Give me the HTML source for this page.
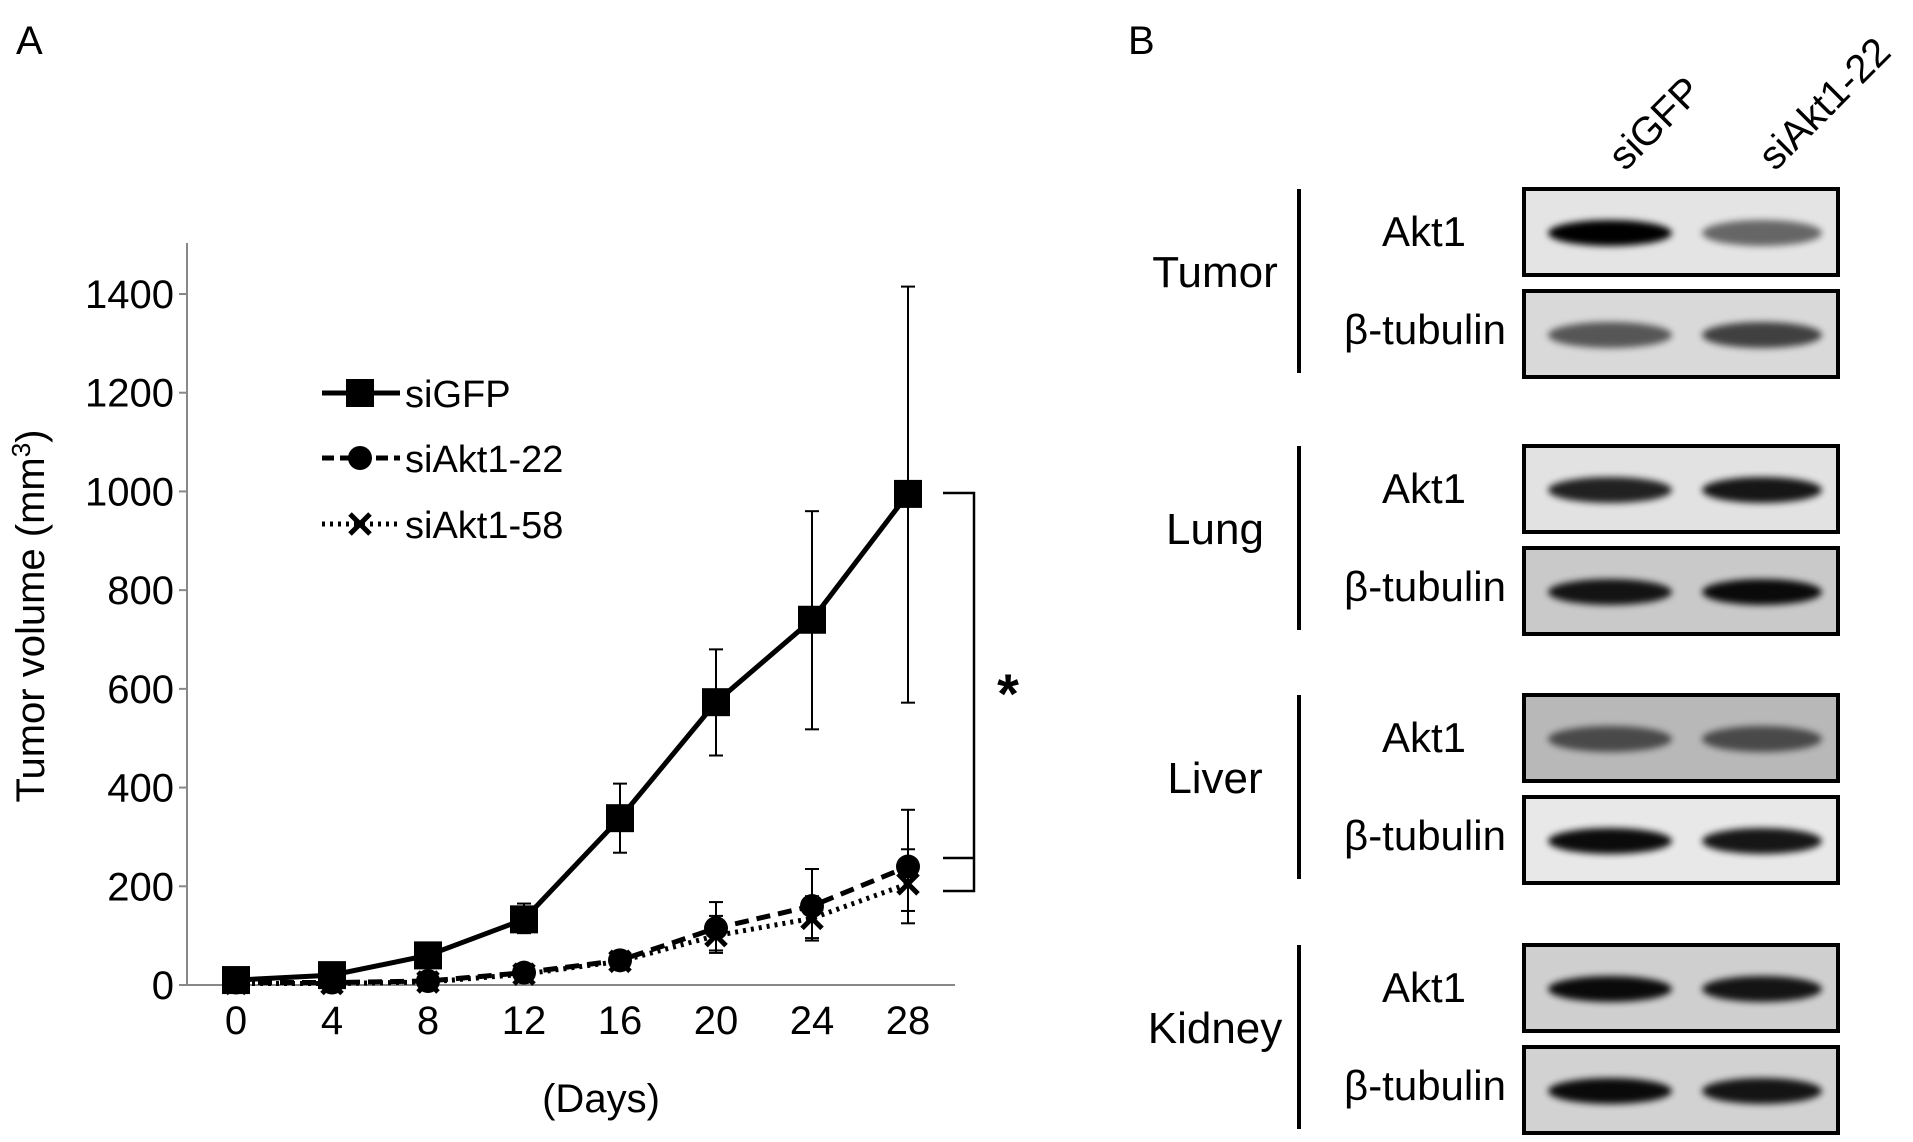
<!DOCTYPE html>
<html><head><meta charset="utf-8"><style>
html,body{margin:0;padding:0;background:#fff;}
svg{display:block;font-family:"Liberation Sans",Arial,sans-serif;}
</style></head><body>
<svg id="fig" width="1913" height="1142" viewBox="0 0 1913 1142">
<defs>
<filter id="blur" x="-20%" y="-100%" width="140%" height="300%"><feGaussianBlur stdDeviation="3.5"/></filter>
</defs>
<text x="16" y="54" font-size="40">A</text>
<text x="1128" y="54" font-size="40">B</text>
<g id="chart"></g>
<g id="blots"></g>
</svg>
<script>
const days = [0, 4, 8, 12, 16, 20, 24, 28];
const siGFP = [10, 20, 60, 133, 338, 573, 740, 995];
const siGFPHi = [15, 28, 75, 165, 408, 680, 960, 1415];
const siGFPLo = [5, 12, 45, 105, 268, 465, 518, 572];
const siAkt22 = [5, 5, 8, 25, 50, 115, 160, 240];
const siAkt22Hi = [8, 8, 12, 35, 65, 168, 235, 355];
const siAkt22Lo = [2, 2, 4, 15, 35, 65, 90, 125];
const siAkt58 = [3, 3, 6, 22, 48, 100, 135, 205];
const siAkt58Hi = [5, 5, 9, 30, 60, 140, 180, 275];
const siAkt58Lo = [1, 1, 3, 14, 36, 70, 95, 150];
const yTicks = [0, 200, 400, 600, 800, 1000, 1200, 1400];
const xTicks = [0, 4, 8, 12, 16, 20, 24, 28];

const NS = "http://www.w3.org/2000/svg";
const X = d => 236 + d * 24;
const Y = v => 985 - v * (691 / 1400);
function mk(parent, tag, attrs, text) {
  const e = document.createElementNS(NS, tag);
  for (const k in attrs) e.setAttribute(k, attrs[k]);
  if (text !== undefined) e.textContent = text;
  parent.appendChild(e);
  return e;
}
const g = document.getElementById("chart");
let e;
e = mk(g, "line", {x1: 187, y1: 243, x2: 187, y2: 985, stroke: "#888", "stroke-width": 2});


e = mk(g, "line", {x1: 187, y1: 985, x2: 955, y2: 985, stroke: "#888", "stroke-width": 2});


yTicks.forEach(v => {
  mk(g, "line", {x1: 179, y1: Y(v), x2: 187, y2: Y(v), stroke: "#888", "stroke-width": 2});
  const t = mk(g, "text", {x: 174, y: Y(v) + 14, "font-size": 40, "text-anchor": "end"}, String(v));
  
  
});
xTicks.forEach(d => {
  const t = mk(g, "text", {x: X(d), y: 1034, "font-size": 40, "text-anchor": "middle"}, String(d));
  
  
});
e = mk(g, "text", {x: 601, y: 1112, "font-size": 40, "text-anchor": "middle"}, "(Days)");


const yt = mk(g, "text", {x: 0, y: 0, "font-size": 40, "text-anchor": "middle", transform: "translate(44,616) rotate(-90)"});


yt.appendChild(document.createTextNode("Tumor volume (mm"));
mk(yt, "tspan", {"font-size": 26, dy: -14}, "3");
mk(yt, "tspan", {dy: 14}, ")");

function series(name, vals, hi, lo, dash, marker) {
  const sg = mk(g, "g", {});
  
  
  vals.forEach((v, i) => {
    const x = X(days[i]);
    mk(sg, "line", {x1: x, y1: Y(hi[i]), x2: x, y2: Y(lo[i]), stroke: "#000", "stroke-width": 2});
    mk(sg, "line", {x1: x - 7, y1: Y(hi[i]), x2: x + 7, y2: Y(hi[i]), stroke: "#000", "stroke-width": 2});
    mk(sg, "line", {x1: x - 7, y1: Y(lo[i]), x2: x + 7, y2: Y(lo[i]), stroke: "#000", "stroke-width": 2});
  });
  const pts = vals.map((v, i) => X(days[i]) + "," + Y(v)).join(" ");
  mk(sg, "polyline", {points: pts, fill: "none", stroke: "#000", "stroke-width": 5, "stroke-dasharray": dash});
  vals.forEach((v, i) => drawMarker(sg, marker, X(days[i]), Y(v)));
}
function drawMarker(p, m, x, y) {
  if (m === "sq") mk(p, "rect", {x: x - 14, y: y - 14, width: 28, height: 28, fill: "#000"});
  else if (m === "ci") mk(p, "circle", {cx: x, cy: y, r: 12, fill: "#000"});
  else {
    mk(p, "line", {x1: x - 10, y1: y - 10, x2: x + 10, y2: y + 10, stroke: "#000", "stroke-width": 5});
    mk(p, "line", {x1: x - 10, y1: y + 10, x2: x + 10, y2: y - 10, stroke: "#000", "stroke-width": 5});
  }
}
series("siakt1-58", siAkt58, siAkt58Hi, siAkt58Lo, "3,5", "x");
series("siakt1-22", siAkt22, siAkt22Hi, siAkt22Lo, "14,8", "ci");
series("sigfp", siGFP, siGFPHi, siGFPLo, "none", "sq");

const legend = [["siGFP", "none", "sq", 393], ["siAkt1-22", "12,6", "ci", 458], ["siAkt1-58", "3,5", "x", 524]];
legend.forEach(l => {
  const lg = mk(g, "g", {});
  
  
  mk(lg, "line", {x1: 322, y1: l[3], x2: 400, y2: l[3], stroke: "#000", "stroke-width": 5, "stroke-dasharray": l[1]});
  drawMarker(lg, l[2], 360, l[3]);
  mk(lg, "text", {x: 405, y: l[3] + 14, "font-size": 38}, l[0]);
});
const br = mk(g, "g", {});


mk(br, "polyline", {points: "943,493 974,493 974,891 943,891", fill: "none", stroke: "#000", "stroke-width": 2.5});
mk(br, "line", {x1: 943, y1: 858, x2: 974, y2: 858, stroke: "#000", "stroke-width": 2.5});
mk(br, "text", {x: 1008, y: 713, "font-size": 56, "font-weight": "bold", "text-anchor": "middle"}, "*");

const b = document.getElementById("blots");
e = mk(b, "text", {x: 0, y: 0, "font-size": 40, transform: "translate(1625,172) rotate(-45)"}, "siGFP");


e = mk(b, "text", {x: 0, y: 0, "font-size": 40, transform: "translate(1775,172) rotate(-45)"}, "siAkt1-22");


const tissues = [
 {n: "Tumor", top: 187, bg1: "#e4e4e4", bg2: "#d9d9d9", a: [1, 0.55], bt: [0.6, 0.7]},
 {n: "Lung", top: 444, bg1: "#e2e2e2", bg2: "#c9c9c9", a: [0.85, 0.9], bt: [0.9, 0.95]},
 {n: "Liver", top: 693, bg1: "#b8b8b8", bg2: "#e8e8e8", a: [0.6, 0.6], bt: [0.95, 0.9]},
 {n: "Kidney", top: 943, bg1: "#cfcfcf", bg2: "#d2d2d2", a: [0.95, 0.9], bt: [0.95, 0.9]}
];
tissues.forEach(t => {
  const tg = mk(b, "g", {});
  
  
  const mid = t.top + 84;
  mk(tg, "line", {x1: 1299, y1: t.top + 2, x2: 1299, y2: t.top + 186, stroke: "#000", "stroke-width": 4});
  mk(tg, "text", {x: 1215, y: mid + 16, "font-size": 44, "text-anchor": "middle"}, t.n);
  mk(tg, "text", {x: 1424, y: t.top + 59, "font-size": 42, "text-anchor": "middle"}, "Akt1");
  mk(tg, "text", {x: 1425, y: t.top + 157, "font-size": 42, "text-anchor": "middle"}, "β-tubulin");
  [[t.top, t.bg1, t.a], [t.top + 102, t.bg2, t.bt]].forEach((r, k) => {
    mk(tg, "rect", {x: 1524, y: r[0] + 2, width: 314, height: 86, fill: r[1], stroke: "#000", "stroke-width": 4});
    const by = r[0] + 46;
    [[1610, 62], [1762, 60]].forEach((ln, j) => {
      const op = r[2][j];
      mk(tg, "ellipse", {cx: ln[0], cy: by, rx: ln[1], ry: 13, fill: "#000", opacity: op, filter: "url(#blur)"});
    });
  });
});
</script>
</body></html>
